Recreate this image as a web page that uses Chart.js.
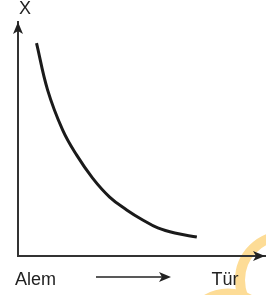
<!DOCTYPE html>
<html>
<head>
<meta charset="utf-8">
<script src="https://cdn.jsdelivr.net/npm/chart.js@4/dist/chart.umd.min.js"></script>
<style>
	html, body { margin: 0; padding: 0; background: #ffffff; }
	#wrap { width: 266px; height: 295px; }
</style>
</head>
<body>
<div id="wrap"><canvas id="chart-alem-tur"></canvas></div>
<script>
	// Werte (x = Richtung Alem -> Tür, y = X)
	var curveX = [7.5, 12.0, 18.1, 23.7, 30.2, 37.1, 44.0, 50.5, 56.6, 63.5, 72.4];
	var curveY = [91.0, 70.9, 53.8, 43.2, 33.3, 25.2, 19.7, 15.4, 12.0, 9.8, 8.1];

	var yAxisLabel = "X";
	var xAxisStart = "Alem";
	var xAxisEnd = "Tür";

	var points = [];
	for (var i = 0; i < curveX.length; i++)
	{
		points.push({ x: curveX[i], y: curveY[i] });
	}

	function arrowHead(ctx, x, y, dir)
	{
		ctx.beginPath();
		if (dir == "up")
		{
			ctx.moveTo(x, y);
			ctx.lineTo(x - 5, y + 12);
			ctx.lineTo(x, y + 9);
			ctx.lineTo(x + 5, y + 12);
		}
		else
		{
			ctx.moveTo(x, y);
			ctx.lineTo(x - 12, y - 5);
			ctx.lineTo(x - 9, y);
			ctx.lineTo(x - 12, y + 5);
		}
		ctx.closePath();
		ctx.fill();
	}

	var decoPlugin = {
		id: "deco",
		beforeDraw: function(chart)
		{
			var ctx = chart.ctx;
			ctx.save();
			// Wasserzeichen unten rechts
			ctx.strokeStyle = "#fddc96";
			ctx.lineWidth = 10;
			ctx.beginPath();
			ctx.arc(284, 280, 44, 0, Math.PI * 2);
			ctx.stroke();
			ctx.beginPath();
			ctx.arc(228, 335, 41.5, 0, Math.PI * 2);
			ctx.stroke();
			ctx.restore();
		},
		afterDraw: function(chart)
		{
			var ctx = chart.ctx;
			var area = chart.chartArea;
			ctx.save();
			ctx.fillStyle = "#222222";
			ctx.strokeStyle = "#222222";

			arrowHead(ctx, area.left, area.top, "up");
			arrowHead(ctx, area.right, area.bottom, "right");

			ctx.font = "18px 'Liberation Sans', Arial, sans-serif";
			ctx.textBaseline = "alphabetic";
			ctx.textAlign = "center";
			ctx.fillText(yAxisLabel, 25, 14);

			ctx.textAlign = "left";
			ctx.fillText(xAxisStart, 15, 285);
			ctx.textAlign = "center";
			ctx.fillText(xAxisEnd, 225, 285);

			ctx.lineWidth = 1.5;
			ctx.beginPath();
			ctx.moveTo(96, 277);
			ctx.lineTo(162, 277);
			ctx.stroke();
			arrowHead(ctx, 171, 277, "right");
			ctx.restore();
		}
	};

	new Chart("chart-alem-tur", {
		type: "scatter",
		data: {
			datasets: [{
				data: points,
				showLine: true,
				borderColor: "#1a1a1a",
				borderWidth: 3,
				pointRadius: 0,
				tension: 0.4,
				fill: false
			}]
		},
		options: {
			responsive: true,
			maintainAspectRatio: false,
			animation: false,
			events: [],
			layout: {
				padding: { left: 18, top: 22, right: 1, bottom: 39 }
			},
			plugins: {
				legend: { display: false },
				tooltip: { enabled: false }
			},
			scales: {
				x: {
					type: "linear",
					min: 0,
					max: 100,
					grid: { display: false, drawTicks: false },
					ticks: { display: false },
					border: { display: true, color: "#333333", width: 2 }
				},
				y: {
					type: "linear",
					min: 0,
					max: 100,
					grid: { display: false, drawTicks: false },
					ticks: { display: false },
					border: { display: true, color: "#333333", width: 2 }
				}
			}
		},
		plugins: [decoPlugin]
	});
</script>
</body>
</html>
